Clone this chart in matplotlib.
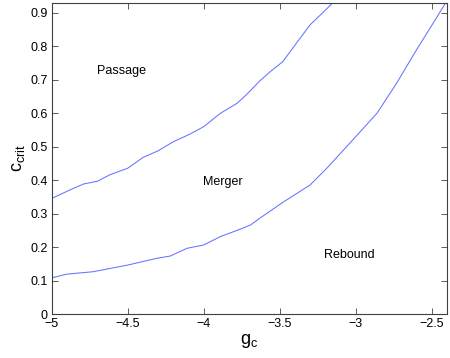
import matplotlib
matplotlib.use("Agg")
import matplotlib.pyplot as plt

# boundary Passage / Merger
upper_g = [-5.0, -4.857, -4.79, -4.70, -4.62, -4.5, -4.40, -4.30, -4.20, -4.09, -4.0,
           -3.89, -3.78, -3.72, -3.63, -3.56, -3.48, -3.39, -3.30, -3.21, -3.15]
upper_c = [0.346, 0.376, 0.389, 0.397, 0.416, 0.436, 0.468, 0.488, 0.515, 0.538, 0.560,
           0.600, 0.630, 0.655, 0.697, 0.725, 0.754, 0.809, 0.864, 0.903, 0.93]

# boundary Merger / Rebound
lower_g = [-5.0, -4.90, -4.73, -4.5, -4.31, -4.22, -4.11, -4.0, -3.89, -3.76, -3.69,
           -3.63, -3.48, -3.30, -3.19, -3.02, -2.86, -2.73, -2.60, -2.49, -2.41]
lower_c = [0.109, 0.120, 0.127, 0.147, 0.167, 0.174, 0.197, 0.207, 0.232, 0.254, 0.267,
           0.287, 0.334, 0.386, 0.436, 0.520, 0.600, 0.690, 0.789, 0.869, 0.928]

regions = ["Passage", "Merger", "Rebound"]
region_pos = [(-4.544, 0.726), (-3.873, 0.395), (-3.04, 0.177)]

xticks = [-5, -4.5, -4, -3.5, -3, -2.5]
yticks = [0, 0.1, 0.2, 0.3, 0.4, 0.5, 0.6, 0.7, 0.8, 0.9]

plt.rcParams['font.family'] = ['Liberation Sans', 'DejaVu Sans']

fig = plt.figure(figsize=(4.5, 3.58), dpi=100)
ax = fig.add_axes([0.115, 0.122, 0.879, 0.8705])

line_color = '#6474ff'
ax.plot(upper_g, upper_c, color=line_color, lw=0.75)
ax.plot(lower_g, lower_c, color=line_color, lw=0.75)

for name, (x, y) in zip(regions, region_pos):
    ax.text(x, y, name, ha='center', va='center', fontsize=9)

ax.set_xlim(-5, -2.397)
ax.set_ylim(0, 0.93)
ax.set_xticks(xticks)
ax.set_yticks(yticks)
ax.set_xticklabels(['\u2212' + f'{abs(t):g}' for t in xticks])
ax.set_yticklabels([f'{t:g}' for t in yticks])
ax.tick_params(direction='in', top=True, right=True, labelsize=9, length=4,
               width=0.6, color='#404040', pad=3)
for s in ax.spines.values():
    s.set_color('#404040')
    s.set_linewidth(0.8)

ax.set_xlabel('g$_\\mathregular{c}$', fontsize=13, labelpad=1)
ax.set_ylabel('c$_\\mathregular{crit}$', fontsize=13, labelpad=2)

fig.savefig('out.png', dpi=100)
